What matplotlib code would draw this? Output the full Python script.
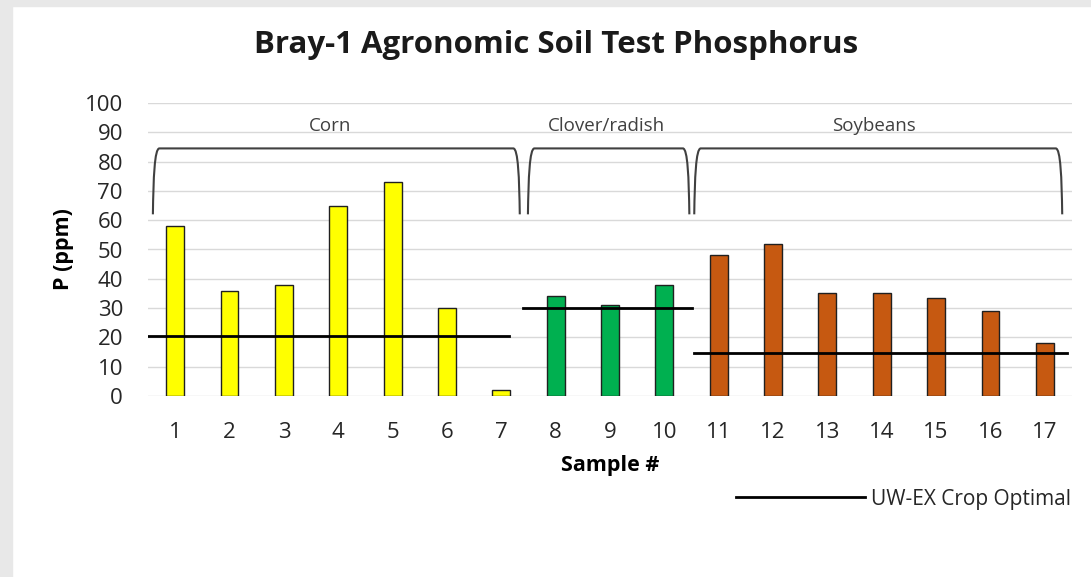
import matplotlib.pyplot as plt
from matplotlib.path import Path
from matplotlib.patches import PathPatch, Rectangle
from matplotlib.lines import Line2D

# sample values
samples = list(range(1, 18))
p_ppm = [58, 36, 38, 65, 73, 30, 2, 34, 31, 38, 48, 52, 35, 35, 33.5, 29, 18]
crop_of_sample = ['Corn'] * 7 + ['Clover/radish'] * 3 + ['Soybeans'] * 7

crops = ['Corn', 'Clover/radish', 'Soybeans']
crop_colors = ['#FFFF00', '#00B050', '#C65911']
optimal = [20.5, 30.2, 14.6]

plt.rcParams['font.family'] = ['Open Sans', 'DejaVu Sans']

fig = plt.figure(figsize=(10.91, 5.77), dpi=100)
# grey frame strips seen at left and top edge of the screenshot
fig.patches.append(Rectangle((0, 0), 12 / 1091, 1, transform=fig.transFigure,
                             color='#e8e8e8', zorder=0))
fig.patches.append(Rectangle((0, 1 - 6 / 577), 1, 6 / 577, transform=fig.transFigure,
                             color='#e8e8e8', zorder=0))

ax = fig.add_axes([148 / 1091, 1 - 396 / 577, (1072 - 148) / 1091, (396 - 103) / 577])

color_map = dict(zip(crops, crop_colors))
ax.bar(samples, p_ppm, width=0.33, color=[color_map[c] for c in crop_of_sample],
       edgecolor='#202020', linewidth=1, zorder=3)

# optimal lines per crop
line_x = [(0.5, 7.15), (7.4, 10.5), (10.55, 17.4)]
for (x0, x1), yv in zip(line_x, optimal):
    ax.plot([x0, x1], [yv, yv], color='black', lw=2, zorder=4)

# braces over each group
def brace(x0, x1, ybot=62, ytop=84.5, dx=0.12):
    verts = [(x0, ybot), (x0 + 0.01, ytop - 10), (x0 + 0.03, ytop), (x0 + dx, ytop),
             (x1 - dx, ytop), (x1 - 0.03, ytop), (x1 - 0.01, ytop - 10), (x1, ybot)]
    codes = [Path.MOVETO, Path.CURVE4, Path.CURVE4, Path.CURVE4,
             Path.LINETO, Path.CURVE4, Path.CURVE4, Path.CURVE4]
    ax.add_patch(PathPatch(Path(verts, codes), fill=False, edgecolor='#404040',
                           lw=1.5, zorder=5, clip_on=False))

brace_x = [(0.59, 7.34), (7.49, 10.46), (10.55, 17.32)]
label_x = [3.85, 8.94, 13.86]
for (x0, x1), lx, name in zip(brace_x, label_x, crops):
    brace(x0, x1)
    ax.text(lx, 92, name, ha='center', va='center', fontsize=13.5, color='#404040',
            zorder=5)

ax.set_xlim(0.5, 17.5)
ax.set_ylim(0, 100)
ax.set_yticks(range(0, 101, 10))
ax.set_xticks(samples)
ax.tick_params(axis='both', length=0, labelsize=16, colors='#262626')
ax.tick_params(axis='x', pad=19)
ax.tick_params(axis='y', pad=18)
ax.grid(axis='y', color='#d9d9d9', lw=1, zorder=0)
for s in ax.spines.values():
    s.set_visible(False)

ax.set_xlabel('Sample #', fontsize=15.5, fontweight='bold', labelpad=8)
ax.set_ylabel('P (ppm)', fontsize=15.5, fontweight='bold', labelpad=8)
fig.text(556 / 1091, 1 - 45 / 577, 'Bray-1 Agronomic Soil Test Phosphorus',
         ha='center', va='center', fontsize=22.5, fontweight='bold', color='#1a1a1a')

handle = Line2D([], [], color='black', lw=2)
fig.legend([handle], ['UW-EX Crop Optimal'], loc='center right',
           bbox_to_anchor=(1090 / 1091, 1 - 499 / 577), frameon=False,
           fontsize=15, handlelength=6.2, handletextpad=0.3, labelcolor='#262626')

fig.savefig('out.png', dpi=100)
